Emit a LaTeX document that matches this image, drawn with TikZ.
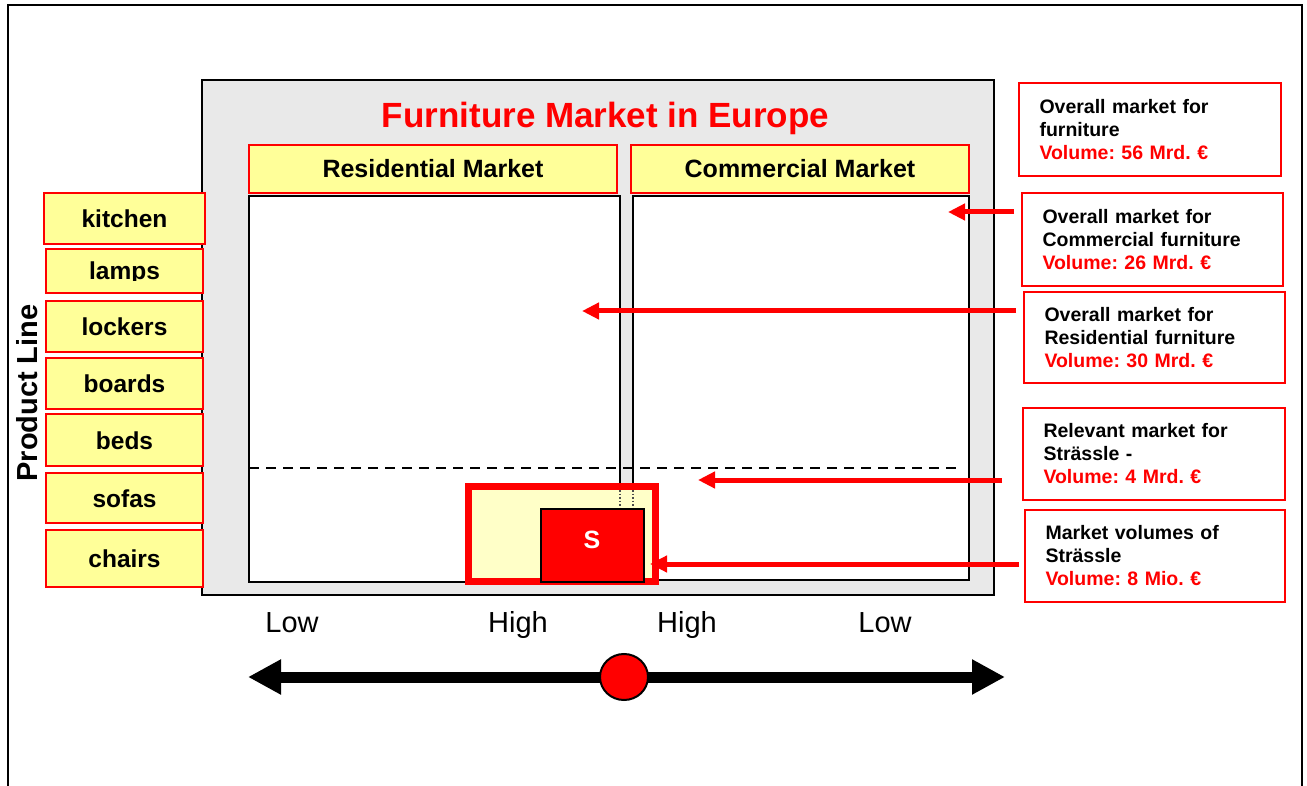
\documentclass[tikz,border=0pt]{standalone}
\usepackage{fontspec}
\setmainfont{Liberation Sans}
\usetikzlibrary{arrows.meta,shapes.geometric}
\definecolor{mred}{HTML}{FF0000}
\definecolor{myel}{HTML}{FFFF99}
\definecolor{mpale}{HTML}{FFFFC8}
\definecolor{mgray}{HTML}{E9E9E9}
\frenchspacing
\begin{document}
\begin{tikzpicture}[x=1pt,y=-1pt,
  hdr/.style={draw=mred, line width=1.8, fill=myel, inner sep=0,
    font=\fontsize{25}{30}\selectfont\bfseries, text height=18, text depth=0},
  prod/.style={draw=mred, line width=1.8, fill=myel, inner sep=0,
    minimum width=157, font=\fontsize{24.5}{29}\selectfont\bfseries, text height=18, text depth=0},
  info/.style={draw=mred, line width=1.8, fill=white, align=left, inner xsep=20.5, inner ysep=0,
    font=\fontsize{19.5}{23}\selectfont\bfseries\frenchspacing},
  pane/.style={draw=black, line width=2, fill=white, inner sep=0},
  redarr/.style={draw=mred, line width=5, -{Triangle[length=17pt,width=16pt]}},
  axlab/.style={font=\fontsize{29}{35}\selectfont, anchor=base}
]
\useasboundingbox (0,0) rectangle (1307,786);
% outer frame
\draw[line width=2] (8,786) -- (8,5) -- (1302,5) -- (1302,786);
% main gray panel
\node[draw=black, line width=2, fill=mgray, minimum width=792, minimum height=515, inner sep=0] (panel) at (598,337.5) {};
\node[font=\fontsize{35}{42}\selectfont\bfseries, text=mred, anchor=base] (title) at (605.5,128) {Furniture Market in Europe};
% headers
\node[hdr, minimum width=368, minimum height=48] (resh) at (433,169) {Residential Market};
\node[hdr, minimum width=338, minimum height=48] (comh) at (800,169) {Commercial Market};
% market panels
\node[pane, minimum width=371, minimum height=386] (respanel) at (434.5,389) {};
\node[pane, minimum width=336, minimum height=384] (companel) at (801,388) {};
% dashed line
\draw[line width=2.2, dash pattern=on 10pt off 7pt] (249,468) -- (963,468);
% relevant market box
\node[draw=mred, line width=7, fill=mpale, minimum width=187, minimum height=95, inner sep=0] (relbox) at (562,534) {};
\draw[dotted, line width=1.5, black!70] (620,490) -- (620,509);
\draw[dotted, line width=1.5, black!70] (633,490) -- (633,509);
% S box
\node[draw=black, line width=2, fill=mred, minimum width=103, minimum height=73, inner sep=0] (sbox) at (592.5,545.5) {};
\node[font=\fontsize{25}{30}\selectfont\bfseries, text=white, anchor=base] (stext) at (592,548) {S};
% product line boxes
\node[prod, minimum width=161, minimum height=51] (kitchen) at (124.5,218.5) {kitchen};
\node[prod, minimum height=44] (lamps) at (124.5,271) {};
\begin{scope}
  \clip (46,249) rectangle (203,281);
  \node[font=\fontsize{24.5}{29}\selectfont\bfseries, text height=18, text depth=0, inner sep=0] (lampst) at (124.5,271) {lamps};
\end{scope}
\node[prod, minimum height=51] (lockers) at (124.5,326.5) {lockers};
\node[prod, minimum height=51] (boards) at (124.5,383.5) {boards};
\node[prod, minimum height=52] (beds) at (124.5,440) {beds};
\node[prod, minimum height=50] (sofas) at (124.5,498) {sofas};
\node[prod, minimum height=57] (chairs) at (124.5,558.5) {chairs};
\node[font=\fontsize{29}{35}\selectfont\bfseries, rotate=90, anchor=base] (pline) at (37,393) {Product Line};
% info boxes
\node[info, text width=221, minimum height=93] (b1) at (1150,129.5) {Overall market for\\furniture\\{\color{mred}Volume: 56 Mrd. €}};
\node[info, text width=220, minimum height=93] (b2) at (1152.5,239.5) {Overall market for\\Commercial furniture\\{\color{mred}Volume: 26 Mrd. €}};
\node[info, text width=220, minimum height=91] (b3) at (1154.5,337.5) {Overall market for\\Residential furniture\\{\color{mred}Volume: 30 Mrd. €}};
\node[info, text width=221, minimum height=92] (b4) at (1154,454) {Relevant market for\\Strässle -\\{\color{mred}Volume: 4 Mrd. €}};
\node[info, text width=219, minimum height=92] (b5) at (1155,556) {Market volumes of\\Strässle\\{\color{mred}Volume: 8 Mio. €}};
% arrow tips
\coordinate (t1) at (948,212);
\coordinate (t2) at (582,311);
\coordinate (t3) at (698,480);
\coordinate (t4) at (650,564);
\draw[redarr] ([xshift=-7pt]b2.west |- t1) -- (t1);
\draw[redarr] ([xshift=-7pt]b3.west |- t2) -- (t2);
\draw[redarr] ([xshift=-20pt]b4.west |- t3) -- (t3);
\draw[redarr] ([xshift=-5pt]b5.west |- t4) -- (t4);
% axis labels
\node[axlab] (low1) at (292,632) {Low};
\node[axlab] (high1) at (518,632) {High};
\node[axlab] (high2) at (687,632) {High};
\node[axlab] (low2) at (885,632) {Low};
% bottom double arrow
\coordinate (axl) at (248,677);
\coordinate (axr) at (1005,677);
\draw[line width=11, {Triangle[length=33pt,width=33pt]}-{Triangle[length=33pt,width=33pt]}] (axl) -- (axr);
\node[draw=black, line width=2, fill=mred, ellipse, minimum width=48, minimum height=46, inner sep=0] (dot) at (624,677) {};
\end{tikzpicture}
\end{document}
